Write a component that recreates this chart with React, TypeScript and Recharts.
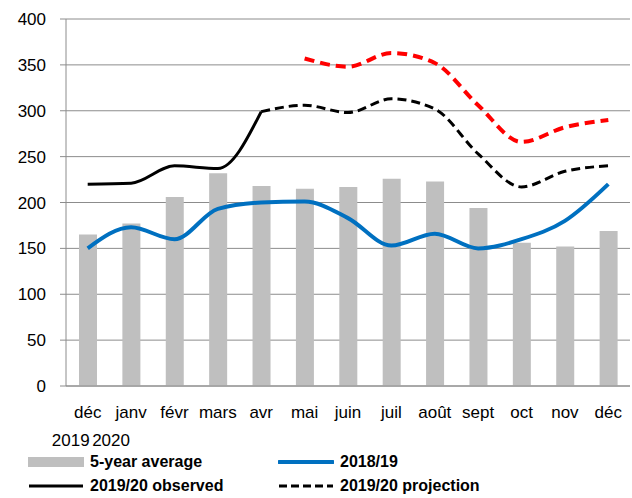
import { ComposedChart, Bar, Line, XAxis, YAxis, CartesianGrid, Legend } from "recharts";

const months = ["déc", "janv", "févr", "mars", "avr", "mai", "juin", "juil", "août", "sept", "oct", "nov", "déc"];
const yearLabels = ["2019", "2020"];
const fiveYearAvg = [165, 177, 206, 232, 218, 215, 217, 226, 223, 194, 156, 152, 169];
const season1819 = [150, 173, 160, 193, 200, 201, 183, 153, 166, 150, 160, 180, 220];
const observed = [220, 221, 240, 237, 299, null, null, null, null, null, null, null, null];
const projection = [null, null, null, null, 299, 306, 298, 313, 302, 253, 217, 234, 240];
const projectionHigh = [null, null, null, null, null, 357, 348, 363, 352, 306, 266, 282, 290];
const yTicks = [0, 50, 100, 150, 200, 250, 300, 350, 400];

const FONT = "'Liberation Sans', Arial, sans-serif";

const data = months.map((m, i) => ({
  month: m,
  avg: fiveYearAvg[i],
  s1819: season1819[i],
  obs: observed[i],
  proj: projection[i],
  projHigh: projectionHigh[i],
}));

const yearOffsets = [-17, -20];

function MonthTick({ x, y, payload, index }: any) {
  return (
    <g>
      <text x={x} y={y + 24} textAnchor="middle" fontSize={17} fontFamily={FONT} fill="#000">
        {payload.value}
      </text>
      {index < yearLabels.length && (
        <text x={x + yearOffsets[index]} y={y + 52} textAnchor="middle" fontSize={17} fontFamily={FONT} fill="#000">
          {yearLabels[index]}
        </text>
      )}
    </g>
  );
}

function LegendItem({ kind, label }: { kind: string; label: string }) {
  let swatch;
  if (kind === "bar") {
    swatch = <rect x={0} y={1} width={56} height={10} fill="#BFBFBF" />;
  } else if (kind === "blue") {
    swatch = <line x1={1} y1={6} x2={55} y2={6} stroke="#0070C0" strokeWidth={4} strokeLinecap="round" />;
  } else if (kind === "solid") {
    swatch = <line x1={1} y1={6} x2={55} y2={6} stroke="#000" strokeWidth={3} />;
  } else {
    swatch = <line x1={1} y1={6} x2={55} y2={6} stroke="#000" strokeWidth={3} strokeDasharray="8 4" />;
  }
  return (
    <div style={{ display: "flex", alignItems: "center", width: 250, height: 24 }}>
      <svg width={56} height={12} style={{ marginRight: 6 }}>{swatch}</svg>
      <span style={{ fontFamily: FONT, fontWeight: "bold", fontSize: 16, color: "#000" }}>{label}</span>
    </div>
  );
}

function ChartLegend() {
  return (
    <div style={{ height: 48, paddingLeft: 28, display: "flex", flexWrap: "wrap", width: 560, boxSizing: "border-box" }}>
      <LegendItem kind="bar" label="5-year average" />
      <LegendItem kind="blue" label="2018/19" />
      <LegendItem kind="solid" label="2019/20 observed" />
      <LegendItem kind="dashed" label="2019/20 projection" />
    </div>
  );
}

export default function App() {
  return (
    <div style={{ position: "absolute", left: 0, top: 0, width: 632, height: 498, background: "#fff" }}>
      <ComposedChart width={632} height={498} data={data} margin={{ top: 19, right: 2, left: 0, bottom: 0 }} barSize={18}>
        <CartesianGrid vertical={false} stroke="#8C8C8C" strokeWidth={1} />
        <XAxis
          dataKey="month"
          height={64}
          tick={<MonthTick />}
          tickLine={false}
          axisLine={{ stroke: "#8C8C8C" }}
          interval={0}
        />
        <YAxis
          width={66}
          domain={[0, 400]}
          ticks={yTicks}
          tick={{ fontSize: 17, fontFamily: FONT, fill: "#000" }}
          tickSize={6}
          tickMargin={14}
          tickLine={{ stroke: "#8C8C8C" }}
          axisLine={{ stroke: "#8C8C8C" }}
        />
        <Legend verticalAlign="bottom" align="left" content={<ChartLegend />} wrapperStyle={{ left: 0, width: 632 }} />
        <Bar dataKey="avg" fill="#BFBFBF" isAnimationActive={false} />
        <Line type="monotone" dataKey="s1819" stroke="#0070C0" strokeWidth={4} dot={false} isAnimationActive={false} />
        <Line type="monotone" dataKey="obs" stroke="#000" strokeWidth={3} dot={false} isAnimationActive={false} />
        <Line type="monotone" dataKey="proj" stroke="#000" strokeWidth={3} strokeDasharray="9 5" dot={false} isAnimationActive={false} />
        <Line type="monotone" dataKey="projHigh" stroke="#FF0000" strokeWidth={4} strokeDasharray="10 6" dot={false} isAnimationActive={false} />
      </ComposedChart>
    </div>
  );
}
